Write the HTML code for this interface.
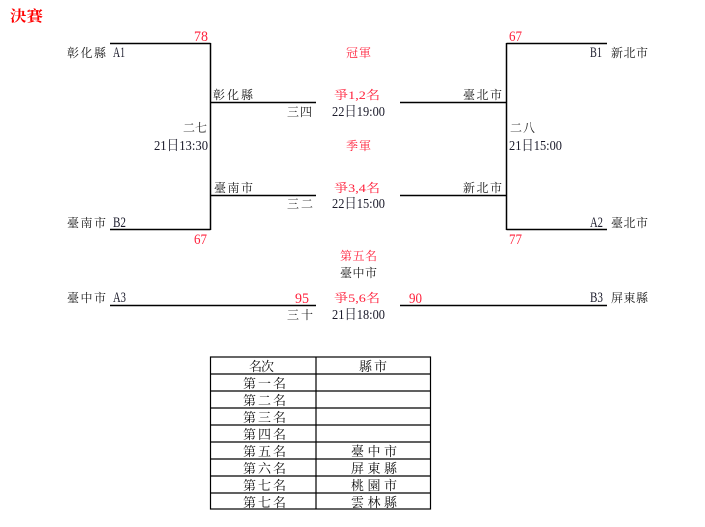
<!DOCTYPE html>
<html><head><meta charset="utf-8"><style>
html,body{margin:0;padding:0;background:#fff;}
svg{display:block;}
.c{font-family:"Liberation Serif","Noto Serif CJK SC",serif;font-size:12px;fill:#1a1a1a;}
.l{font-family:"Liberation Serif","Noto Serif CJK SC",serif;font-size:14px;fill:#1a1a2a;}
.t{font-family:"Liberation Serif","Noto Serif CJK SC",serif;font-size:13px;fill:#111;}
.n{font-size:15px;}
.c.r,.l.r{fill:#ff1f3a;}
</style></head><body>
<svg width="705" height="527" viewBox="0 0 705 527" xmlns="http://www.w3.org/2000/svg">
<g stroke="#000" stroke-width="1.5" fill="none">
<path d="M110,43.5H210.5M210.5,43V230M110,229.5H210.5M210,102.5H316M210,195.5H316M110,305.5H316"/>
<path d="M400,102.5H507M400,195.5H507M506.5,43V230M506.5,43.5H607M506.5,229.5H607M400,305.5H607"/>
</g>
<text x="10" y="21" font-family="Liberation Serif,Noto Serif CJK SC,serif" font-size="15" font-weight="bold" fill="#ff0000" textLength="33" lengthAdjust="spacingAndGlyphs">決賽</text>

<!-- left top -->
<text class="l r n" x="194" y="41" textLength="14" lengthAdjust="spacingAndGlyphs">78</text>
<text class="c" x="67" y="57" textLength="39" lengthAdjust="spacing">彰化縣</text>
<text class="l n" x="113" y="57" textLength="12" lengthAdjust="spacingAndGlyphs">A1</text>
<text class="c" x="213" y="99" textLength="40" lengthAdjust="spacing">彰化縣</text>
<text class="c" x="183" y="132" textLength="24" lengthAdjust="spacing">二七</text>
<text class="l" x="154" y="150" textLength="54" lengthAdjust="spacingAndGlyphs">21日13:30</text>
<text class="c" x="214" y="192" textLength="39" lengthAdjust="spacing">臺南市</text>
<text class="c" x="67" y="227" textLength="39" lengthAdjust="spacing">臺南市</text>
<text class="l n" x="113" y="227" textLength="13" lengthAdjust="spacingAndGlyphs">B2</text>
<text class="l r n" x="194" y="244" textLength="13" lengthAdjust="spacingAndGlyphs">67</text>
<text class="c" x="67" y="302" textLength="39" lengthAdjust="spacing">臺中市</text>
<text class="l n" x="113" y="302" textLength="13" lengthAdjust="spacingAndGlyphs">A3</text>
<text class="l r n" x="295" y="303" textLength="14" lengthAdjust="spacingAndGlyphs">95</text>
<text class="c" x="287" y="319" textLength="26" lengthAdjust="spacing">三十</text>

<!-- center -->
<text class="c r" x="346" y="57" textLength="25" lengthAdjust="spacing">冠軍</text>
<text class="c r" x="334" y="99" textLength="46" lengthAdjust="spacingAndGlyphs">爭1,2名</text>
<text class="l" x="332" y="116" textLength="53" lengthAdjust="spacingAndGlyphs">22日19:00</text>
<text class="c" x="287" y="116" textLength="25" lengthAdjust="spacing">三四</text>
<text class="c r" x="346" y="150" textLength="25" lengthAdjust="spacing">季軍</text>
<text class="c r" x="334" y="192" textLength="46" lengthAdjust="spacingAndGlyphs">爭3,4名</text>
<text class="l" x="332" y="208" textLength="53" lengthAdjust="spacingAndGlyphs">22日15:00</text>
<text class="c" x="287" y="208" textLength="26" lengthAdjust="spacing">三二</text>
<text class="c r" x="340" y="260" textLength="37" lengthAdjust="spacing">第五名</text>
<text class="c" x="340" y="277" textLength="37" lengthAdjust="spacing">臺中市</text>
<text class="c r" x="334" y="302" textLength="46" lengthAdjust="spacingAndGlyphs">爭5,6名</text>
<text class="l" x="332" y="319" textLength="53" lengthAdjust="spacingAndGlyphs">21日18:00</text>
<text class="l r n" x="409" y="303" textLength="13" lengthAdjust="spacingAndGlyphs">90</text>

<!-- right -->
<text class="l r n" x="509" y="41" textLength="13" lengthAdjust="spacingAndGlyphs">67</text>
<text class="l n" x="590" y="57" textLength="12" lengthAdjust="spacingAndGlyphs">B1</text>
<text class="c" x="611" y="57" textLength="37" lengthAdjust="spacing">新北市</text>
<text class="c" x="463" y="99" textLength="39" lengthAdjust="spacing">臺北市</text>
<text class="c" x="510" y="132" textLength="25" lengthAdjust="spacing">二八</text>
<text class="l" x="509" y="150" textLength="53" lengthAdjust="spacingAndGlyphs">21日15:00</text>
<text class="c" x="463" y="192" textLength="39" lengthAdjust="spacing">新北市</text>
<text class="l n" x="590" y="227" textLength="13" lengthAdjust="spacingAndGlyphs">A2</text>
<text class="c" x="611" y="227" textLength="37" lengthAdjust="spacing">臺北市</text>
<text class="l r n" x="509" y="244" textLength="13" lengthAdjust="spacingAndGlyphs">77</text>
<text class="l n" x="590" y="302" textLength="13" lengthAdjust="spacingAndGlyphs">B3</text>
<text class="c" x="611" y="302" textLength="37" lengthAdjust="spacing">屏東縣</text>

<!-- table -->
<g stroke="#000" stroke-width="1.2" fill="none">
<rect x="210.5" y="357" width="220" height="152"/>
<path d="M316,357V509M210.5,374H430.5M210.5,391H430.5M210.5,408H430.5M210.5,425H430.5M210.5,442H430.5M210.5,459H430.5M210.5,476H430.5M210.5,493H430.5"/>
</g>
<text class="t" x="249" y="371" textLength="25" lengthAdjust="spacing">名次</text>
<text class="t" x="359" y="371" textLength="28" lengthAdjust="spacing">縣市</text>
<text class="t" x="243" y="388" textLength="43" lengthAdjust="spacing">第一名</text>
<text class="t" x="243" y="405" textLength="43" lengthAdjust="spacing">第二名</text>
<text class="t" x="243" y="422" textLength="43" lengthAdjust="spacing">第三名</text>
<text class="t" x="243" y="439" textLength="43" lengthAdjust="spacing">第四名</text>
<text class="t" x="243" y="456" textLength="43" lengthAdjust="spacing">第五名</text>
<text class="t" x="243" y="473" textLength="43" lengthAdjust="spacing">第六名</text>
<text class="t" x="243" y="490" textLength="43" lengthAdjust="spacing">第七名</text>
<text class="t" x="243" y="507" textLength="43" lengthAdjust="spacing">第七名</text>
<text class="t" x="351" y="456" textLength="46" lengthAdjust="spacing">臺中市</text>
<text class="t" x="351" y="473" textLength="46" lengthAdjust="spacing">屏東縣</text>
<text class="t" x="351" y="490" textLength="46" lengthAdjust="spacing">桃園市</text>
<text class="t" x="351" y="507" textLength="46" lengthAdjust="spacing">雲林縣</text>
</svg>
</body></html>
